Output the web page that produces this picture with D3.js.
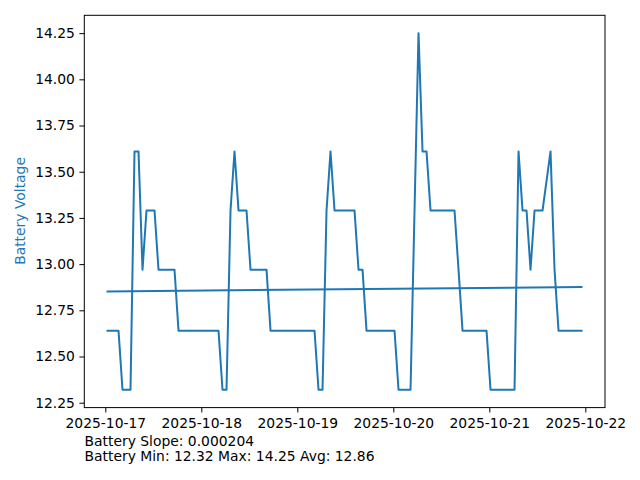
<!DOCTYPE html>
<html>
<head>
<meta charset="utf-8">
<script src="https://cdn.jsdelivr.net/npm/d3@7/dist/d3.min.js"></script>
<style>
  html, body { margin: 0; padding: 0; background: #fff; }
  svg { display: block; }
  text { font-family: "DejaVu Sans", sans-serif; }
</style>
</head>
<body>
<div id="chart"></div>
<script>
// ---- data ----
const startTime = "2025-10-17T00:18:00";   // first sample, hourly readings
const voltages = [
  12.64, 12.64, 12.64, 12.64, 12.32, 12.32, 12.32, 13.61, 13.61, 12.97,
  13.29, 13.29, 13.29, 12.97, 12.97, 12.97, 12.97, 12.97, 12.64, 12.64,
  12.64, 12.64, 12.64, 12.64, 12.64, 12.64, 12.64, 12.64, 12.64, 12.32,
  12.32, 13.29, 13.61, 13.29, 13.29, 13.29, 12.97, 12.97, 12.97, 12.97,
  12.97, 12.64, 12.64, 12.64, 12.64, 12.64, 12.64, 12.64, 12.64, 12.64,
  12.64, 12.64, 12.64, 12.32, 12.32, 13.29, 13.61, 13.29, 13.29, 13.29,
  13.29, 13.29, 13.29, 12.97, 12.97, 12.64, 12.64, 12.64, 12.64, 12.64,
  12.64, 12.64, 12.64, 12.32, 12.32, 12.32, 12.32, 13.29, 14.25, 13.61,
  13.61, 13.29, 13.29, 13.29, 13.29, 13.29, 13.29, 13.29, 12.97, 12.64,
  12.64, 12.64, 12.64, 12.64, 12.64, 12.64, 12.32, 12.32, 12.32, 12.32,
  12.32, 12.32, 12.32, 13.61, 13.29, 13.29, 12.97, 13.29, 13.29, 13.29,
  13.45, 13.61, 12.97, 12.64, 12.64, 12.64, 12.64, 12.64, 12.64, 12.64
];
const trendEnds = [12.852, 12.876];        // linear trend at first / last sample
const xTickLabels = ["2025-10-17", "2025-10-18", "2025-10-19", "2025-10-20", "2025-10-21", "2025-10-22"];
const yTickValues = [12.25, 12.50, 12.75, 13.00, 13.25, 13.50, 13.75, 14.00, 14.25];
const yLabel = "Battery Voltage";
const statsLines = ["Battery Slope: 0.000204", "Battery Min: 12.32 Max: 14.25 Avg: 12.86"];
const xDomain = ["2025-10-16T18:45:00", "2025-10-22T04:55:00"];

// ---- layout ----
const W = 640, H = 480;
const axL = 84.3, axR = 605, axT = 15.3, axB = 407.6;
const blue = "#1f77b4";
const fs = 13.89;

const parse = d3.isoParse;
const t0 = parse(startTime);
const data = voltages.map((v, i) => ({ t: d3.timeHour.offset(t0, i), v }));

const svg = d3.select("#chart").append("svg").attr("width", W).attr("height", H);

const x = d3.scaleTime().domain(xDomain.map(parse)).range([axL, axR]);
const vmin = d3.min(voltages), vmax = d3.max(voltages), pad = (vmax - vmin) * 0.05;
const y = d3.scaleLinear().domain([vmin - pad, vmax + pad]).range([axB, axT]);

// data line
svg.append("path")
  .datum(data)
  .attr("fill", "none")
  .attr("stroke", blue)
  .attr("stroke-width", 2)
  .attr("stroke-linejoin", "round")
  .attr("stroke-linecap", "butt")
  .attr("d", d3.line().x(d => x(d.t)).y(d => y(d.v)));

// trend line
const trend = [
  { t: data[0].t, v: trendEnds[0] },
  { t: data[data.length - 1].t, v: trendEnds[1] }
];
svg.append("path")
  .datum(trend)
  .attr("fill", "none")
  .attr("stroke", blue)
  .attr("stroke-width", 2)
  .attr("d", d3.line().x(d => x(d.t)).y(d => y(d.v)));

// axes
const xTicks = xTickLabels.map(s => parse(s + "T00:00:00"));
const xAxis = d3.axisBottom(x).tickValues(xTicks).tickFormat(d3.timeFormat("%Y-%m-%d"))
  .tickSizeInner(4.9).tickSizeOuter(0).tickPadding(5.2);
const gx = svg.append("g").attr("transform", `translate(0,${axB})`).call(xAxis);

const yAxis = d3.axisLeft(y).tickValues(yTickValues).tickFormat(d3.format(".2f"))
  .tickSizeInner(4.9).tickSizeOuter(0).tickPadding(4.5);
const gy = svg.append("g").attr("transform", `translate(${axL},0)`).call(yAxis);

[gx, gy].forEach(g => {
  g.select(".domain").remove();
  g.selectAll(".tick line").attr("stroke", "#000").attr("stroke-width", 1);
  g.selectAll(".tick text").attr("fill", "#000").attr("font-size", fs)
    .attr("font-family", "DejaVu Sans, sans-serif");
});

// frame
svg.append("rect")
  .attr("x", axL).attr("y", axT)
  .attr("width", axR - axL).attr("height", axB - axT)
  .attr("fill", "none").attr("stroke", "#000").attr("stroke-width", 1);

// y label
svg.append("text")
  .attr("transform", `translate(25.3,${(axT + axB) / 2 - 0.5}) rotate(-90)`)
  .attr("text-anchor", "middle")
  .attr("fill", blue)
  .attr("font-size", fs)
  .text(yLabel);

// stats text
statsLines.forEach((s, i) => {
  svg.append("text")
    .attr("x", 84.5).attr("y", 445.8 + i * 15.6)
    .attr("fill", "#000")
    .attr("font-size", fs)
    .text(s);
});
</script>
</body>
</html>
